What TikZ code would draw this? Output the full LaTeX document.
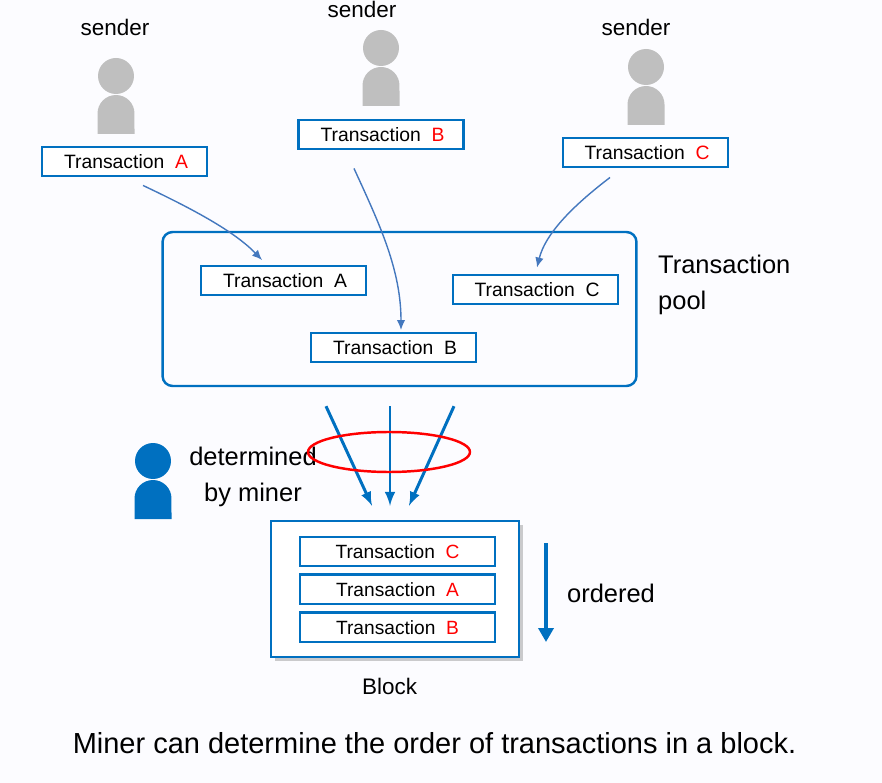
\documentclass[tikz,border=0pt]{standalone}
\usepackage{fontspec}
\setmainfont{Liberation Sans}
\usepackage{xcolor}
\usetikzlibrary{arrows,arrows.meta,calc,positioning,shadows,shapes}
\definecolor{boxblue}{HTML}{0070C0}
\definecolor{flowblue}{HTML}{4478BE}
\definecolor{paper}{HTML}{FCFCFF}
\definecolor{persongray}{HTML}{BFBFBF}
\tikzset{
        txbox/.style = {draw=boxblue, rectangle, fill=white, line width=1.4pt,
            minimum height=0.59cm,
            minimum width=3.3cm, inner sep=0pt,
            font=\fontsize{11}{13}\selectfont,
            execute at begin node=\hspace{0.06cm}},
        blockbox/.style = {draw=boxblue, rectangle, fill=white, line width=1.4pt,
            minimum height=0.59cm,
            minimum width=3.9cm, inner sep=0pt,
            font=\fontsize{10.9}{13}\selectfont},
        pool/.style = {draw=boxblue, rectangle, rounded corners=0.2cm, line width=1.4pt,
            minimum width=9.48cm, minimum height=3.08cm},
        bigblock/.style = {draw=boxblue, rectangle, fill=white, line width=1.4pt,
            minimum width=4.96cm, minimum height=2.72cm,
            drop shadow={shadow xshift=0.08cm, shadow yshift=-0.08cm, opacity=0.4}},
        smalllabel/.style = {font=\fontsize{12.8}{15}\selectfont},
        biglabel/.style = {font=\fontsize{14.5}{20.4}\selectfont},
        flow/.style = {draw=flowblue, -{Latex[length=0.2cm,width=0.17cm]}, line width=0.8pt},
        pick/.style = {draw=boxblue, -latex, line width=1.7pt},
        pics/person/.style = {code={
            \fill[#1] (0,0) circle[radius=0.36cm];
            \fill[#1] (-18.5,58) -- (-18.5,37.5) arc[start angle=180,end angle=0,radius=0.37cm] -- (18.5,58) -- cycle;
        }},
    }
\begin{document}
\begin{tikzpicture}[x=0.02cm,y=-0.02cm]
    \fill[paper] (0,0) rectangle (882,783);
    \useasboundingbox (0,0) rectangle (882,783);

    % senders
    \node[smalllabel] (senderA) at (115,27) {sender};
    \node[smalllabel] (senderB) at (362,9) {sender};
    \node[smalllabel] (senderC) at (636,27) {sender};
    \pic at (116,76) {person=persongray};
    \pic at (381,48) {person=persongray};
    \pic at (646,67) {person=persongray};
    \node[txbox] (txA) at (124.5,161.5) {Transaction\ \ \textcolor{red}{A}};
    \node[txbox] (txB) at (381,134.5) {Transaction\ \ \textcolor{red}{B}};
    \node[txbox] (txC) at (645.5,152.5) {Transaction\ \ \textcolor{red}{C}};

    % pool
    \node[pool] (txpool) at (399.5,309) {};
    \node[txbox] (poolA) at (283.5,280.5) {Transaction\ \ A};
    \node[txbox] (poolC) at (535.5,289.5) {Transaction\ \ C};
    \node[txbox] (poolB) at (393.5,347.5) {Transaction\ \ B};
    \node[biglabel, align=left, anchor=west] (poollabel) at (652,285) {Transaction\\pool};

    \draw[flow] ([shift={(18.5,8)}]txA.south) .. controls (195,210) and (235,232) .. ([shift={(-21.5,-4.5)}]poolA.north);
    \draw[flow] ([shift={(-27,18)}]txB.south) .. controls (380,225) and (401,270) .. ([shift={(7.5,-1.5)}]poolB.north);
    \draw[flow] ([shift={(-35.5,9)}]txC.south) .. controls (570,208) and (545,235) .. ([shift={(1.5,-6)}]poolC.north);

    % miner
    \pic at (153,461) {person=boxblue};
    \node[biglabel, align=center] (minerlabel) at (253,477) {determined\\by miner};

    % block
    \node[bigblock] (block) at (395,589) {};
    \node[blockbox] (blockC) at (397.5,551.5) {Transaction\ \ \textcolor{red}{C}};
    \node[blockbox, below=0.12cm of blockC] (blockA) {Transaction\ \ \textcolor{red}{A}};
    \node[blockbox, below=0.12cm of blockA] (blockB) {Transaction\ \ \textcolor{red}{B}};
    \node[smalllabel] (blocklabel) at (389.5,686) {Block};

    \draw[pick] ([shift={(-73.5,19)}]txpool.south) -- ([shift={(-23,-14)}]block.north);
    \draw[pick] ([shift={(-9.5,19)}]txpool.south) -- ([shift={(-5,-14)}]block.north);
    \draw[pick] ([shift={(54.5,19)}]txpool.south) -- ([shift={(14,-14)}]block.north);
    \node[draw=red, ellipse, line width=1.4pt, minimum width=3.24cm, minimum height=0.8cm, inner sep=0pt] (choice) at (389,452) {};

    % order
    \coordinate (ordtop) at (546,543);
    \coordinate (ordend) at (546,642);
    \draw[draw=boxblue, fill=boxblue, line width=2.6pt, -{Triangle[length=0.28cm,width=0.3cm]}] (ordtop) -- (ordend);
    \node[biglabel] (ordlabel) at (611,593) {ordered};

    \node[font=\fontsize{16.5}{19}\selectfont] (caption) at (434.5,743) {Miner can determine the order of transactions in a block.};
\end{tikzpicture}
\end{document}
